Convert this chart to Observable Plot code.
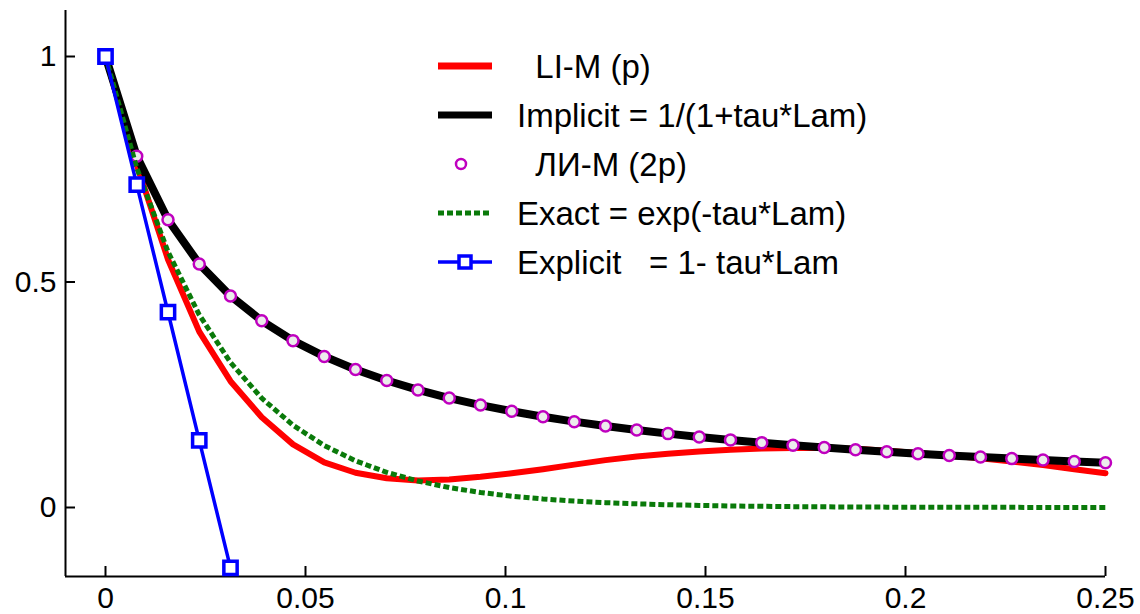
<!DOCTYPE html>
<html>
<head>
<meta charset="utf-8">
<script src="https://cdn.jsdelivr.net/npm/d3@7"></script>
<script src="https://cdn.jsdelivr.net/npm/@observablehq/plot@0.6"></script>
<style>
  html, body { margin: 0; padding: 0; background: #fff; }
  #chart { position: relative; width: 1140px; height: 614px; }
  svg { font-family: "Liberation Sans", Arial, sans-serif; }
</style>
</head>
<body>
<div id="chart"></div>
<script>
// ---- data ----
// common grid: tau = k/128
const tau = [0, 0.0078125, 0.015625, 0.0234375, 0.03125, 0.0390625, 0.046875, 0.0546875,
  0.0625, 0.0703125, 0.078125, 0.0859375, 0.09375, 0.1015625, 0.109375, 0.1171875,
  0.125, 0.1328125, 0.140625, 0.1484375, 0.15625, 0.1640625, 0.171875, 0.1796875,
  0.1875, 0.1953125, 0.203125, 0.2109375, 0.21875, 0.2265625, 0.234375, 0.2421875, 0.25];

const liMp = [1, 0.76, 0.55, 0.39, 0.28, 0.20, 0.14, 0.10, 0.077, 0.065, 0.060, 0.062,
  0.068, 0.076, 0.085, 0.095, 0.105, 0.113, 0.119, 0.124, 0.128, 0.131, 0.132, 0.132,
  0.130, 0.126, 0.121, 0.115, 0.109, 0.102, 0.094, 0.085, 0.076];

const implicit = [1, 0.779, 0.638, 0.540, 0.469, 0.414, 0.370, 0.335, 0.306, 0.2815,
  0.2607, 0.2427, 0.2271, 0.2134, 0.2012, 0.1903, 0.1806, 0.1718, 0.1638, 0.1565,
  0.1499, 0.1438, 0.1381, 0.1329, 0.1281, 0.1236, 0.1194, 0.1155, 0.1118, 0.1084,
  0.1052, 0.1021, 0.0993];

// ЛИ-М (2p) markers, k = 1..32
const liM2pTau = tau.slice(1);
const liM2p = [0.779, 0.638, 0.540, 0.469, 0.414, 0.370, 0.335, 0.306, 0.2815,
  0.2607, 0.2427, 0.2271, 0.2134, 0.2012, 0.1903, 0.1806, 0.1718, 0.1638, 0.1565,
  0.1499, 0.1438, 0.1381, 0.1329, 0.1281, 0.1236, 0.1194, 0.1155, 0.1118, 0.1084,
  0.1052, 0.1021, 0.0993];

const exact = [1, 0.7531, 0.5672, 0.4271, 0.3217, 0.2423, 0.1825, 0.1374, 0.1035,
  0.0779, 0.0587, 0.0442, 0.0333, 0.0250, 0.0189, 0.0142, 0.0107, 0.0081, 0.0061,
  0.0046, 0.0034, 0.0026, 0.0019, 0.0015, 0.0011, 0.0008, 0.0006, 0.0005, 0.0004,
  0.0003, 0.0002, 0.0002, 0.0001];

const explicitTau = [0, 0.0078125, 0.015625, 0.0234375, 0.03125];
const explicit = [1, 0.716, 0.433, 0.149, -0.134];

const xDomain = [-0.01, 0.25];
const yDomain = [-0.153, 1.102];
const xTicks = [0, 0.05, 0.1, 0.15, 0.2, 0.25];
const xTickLabels = ["0", "0.05", "0.1", "0.15", "0.2", "0.25"];
const yTicks = [0, 0.5, 1];
const yTickLabels = ["0", "0.5", "1"];

const legendLabels = ["  LI-M (p)", "Implicit = 1/(1+tau*Lam)", "  ЛИ-М (2p)",
  "Exact = exp(-tau*Lam)", "Explicit   = 1- tau*Lam"];
const legendColors = ["#ff0000", "#000000", "#bf00bf", "#0a7a0a", "#0000ff"];

// ---- build tables ----
const rows = (xs, ys) => xs.map((x, i) => ({x, y: ys[i]}));
const redData = rows(tau, liMp);
const blackData = rows(tau, implicit);
const circData = rows(liM2pTau, liM2p);
const greenData = rows(tau, exact);
const blueData = rows(explicitTau, explicit);

const plot = Plot.plot({
  width: 1140,
  height: 614,
  marginLeft: 65,
  marginRight: 35,
  marginTop: 10,
  marginBottom: 38,
  x: {domain: xDomain},
  y: {domain: yDomain},
  style: {fontFamily: '"Liberation Sans", Arial, sans-serif', background: "#fff", color: "#000"},
  marks: [
    // axis lines
    Plot.ruleY([yDomain[0]], {stroke: "#000", strokeWidth: 2}),
    Plot.ruleX([xDomain[0]], {stroke: "#000", strokeWidth: 2}),
    // inward ticks
    Plot.axisX({ticks: xTicks, tickSize: 10, dy: -10, tickFormat: () => "", label: null, strokeWidth: 2}),
    Plot.axisY({ticks: yTicks, tickSize: 10, dx: 10, tickFormat: () => "", label: null, strokeWidth: 2}),
    // tick labels
    Plot.axisX({ticks: xTicks, tickSize: 0, tickPadding: 10, fontSize: 30, label: null,
      tickFormat: d => xTickLabels[xTicks.indexOf(d)]}),
    Plot.axisY({ticks: yTicks, tickSize: 0, tickPadding: 9, fontSize: 30, label: null,
      tickFormat: d => yTickLabels[yTicks.indexOf(d)]}),
    // series
    Plot.line(redData, {x: "x", y: "y", stroke: legendColors[0], strokeWidth: 6}),
    Plot.line(blackData, {x: "x", y: "y", stroke: legendColors[1], strokeWidth: 8}),
    Plot.dot(circData, {x: "x", y: "y", r: 5.5, stroke: legendColors[2], strokeWidth: 2.5, fill: "#ececec"}),
    Plot.line(greenData, {x: "x", y: "y", stroke: legendColors[3], strokeWidth: 5, strokeDasharray: "6,3", strokeLinecap: "butt", strokeLinejoin: "miter"}),
    Plot.line(blueData, {x: "x", y: "y", stroke: legendColors[4], strokeWidth: 3.5}),
    Plot.dot(blueData, {x: "x", y: "y", symbol: "square", r: 7.5, stroke: legendColors[4], strokeWidth: 3.5, fill: "#fff"})
  ]
});

// ---- legend (inside plot area, top) ----
const svg = d3.select(plot);
const lg = svg.append("g").attr("class", "legend").attr("text-anchor", "start");
const rowY0 = 66, rowStep = 49, symX1 = 438, symX2 = 492, textX = 517;
legendLabels.forEach((lab, i) => {
  const y = rowY0 + i * rowStep;
  const c = legendColors[i];
  if (i === 0 || i === 1) {
    lg.append("line").attr("x1", symX1).attr("x2", symX2).attr("y1", y).attr("y2", y)
      .attr("stroke", c).attr("stroke-width", 7);
  } else if (i === 2) {
    lg.append("circle").attr("cx", 461).attr("cy", y).attr("r", 5)
      .attr("stroke", c).attr("stroke-width", 2.5).attr("fill", "#fff");
  } else if (i === 3) {
    lg.append("line").attr("x1", symX1).attr("x2", symX2).attr("y1", y).attr("y2", y)
      .attr("stroke", c).attr("stroke-width", 5).attr("stroke-dasharray", "6,3");
  } else {
    lg.append("line").attr("x1", symX1).attr("x2", symX2).attr("y1", y).attr("y2", y)
      .attr("stroke", c).attr("stroke-width", 3.5);
    lg.append("rect").attr("x", (symX1 + symX2) / 2 - 6).attr("y", y - 6).attr("width", 12).attr("height", 12)
      .attr("stroke", c).attr("stroke-width", 3.5).attr("fill", "#fff");
  }
  lg.append("text").attr("x", textX).attr("y", y).attr("dy", "0.36em")
    .attr("font-size", 33).attr("fill", "#000").attr("text-anchor", "start")
    .style("white-space", "pre").attr("xml:space", "preserve")
    .text(lab);
});

document.getElementById("chart").appendChild(plot);
</script>
</body>
</html>
